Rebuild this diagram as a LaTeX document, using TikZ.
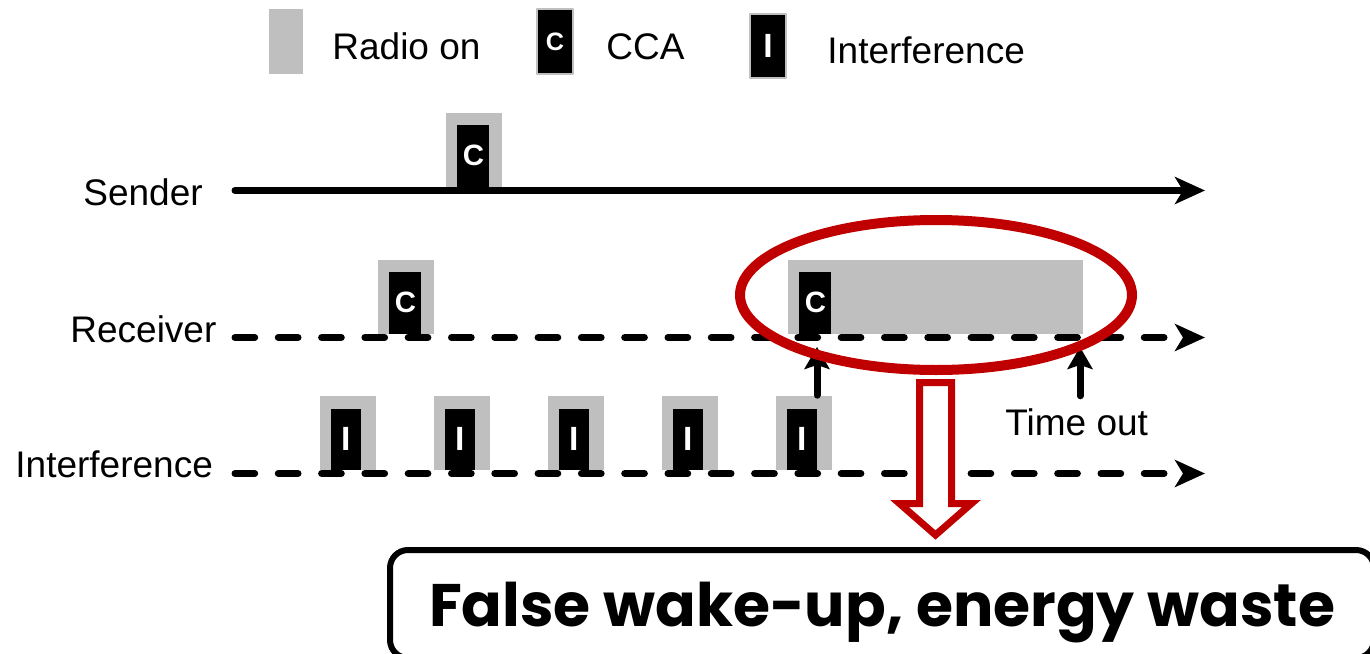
\documentclass[tikz,border=0pt]{standalone}
\usepackage{fontspec}
\setmainfont{Liberation Sans}
\newfontfamily\gothic{Poppins}
\usetikzlibrary{arrows.meta,positioning,shapes.geometric}

\definecolor{radiogray}{RGB}{191,191,191}
\definecolor{wakered}{RGB}{192,0,0}

\tikzset{
  lbl/.style={font=\fontsize{18.5}{22}\selectfont, inner sep=0pt, anchor=base west},
  radio/.style={fill=radiogray, inner sep=0pt, minimum width=28pt, minimum height=37pt, anchor=south west},
  ccabox/.style={fill=black, text=white, inner sep=0pt, minimum width=16pt, minimum height=31pt, anchor=south west, font=\fontsize{14.7}{15}\selectfont\bfseries},
  intbox/.style={ccabox, minimum width=15pt, minimum height=30.5pt, font=\fontsize{16.8}{17}\selectfont\bfseries},
  timeline/.style={line width=3.5pt, line cap=round, -{Stealth[length=15pt,width=13.5pt,inset=4pt]}},
  idle/.style={timeline, dash pattern=on 9.85pt off 11.8pt},
  trigger/.style={line width=3.5pt, line cap=round, -{Stealth[length=11pt,width=12.5pt,inset=2pt]}},
}

\begin{document}
\begin{tikzpicture}[x=0.5pt, y=-0.5pt, line join=round]
\useasboundingbox (0,0) rectangle (1370,653);

% key
\node[fill=radiogray, inner sep=0pt, minimum width=17pt, minimum height=32.5pt] (keyradio) at (286,41.5) {};
\node[lbl] (keyradiotxt) at (332,59) {Radio on};
\node[fill=black, draw=radiogray, line width=0.7pt, text=white, inner sep=0pt, minimum width=18pt, minimum height=32.5pt, font=\fontsize{12.6}{13}\selectfont\bfseries] (keycca) at (555,41.5) {C};
\node[lbl] (keyccatxt) at (606,59) {CCA};
\node[fill=black, draw=radiogray, line width=0.7pt, text=white, inner sep=0pt, minimum width=18pt, minimum height=32pt, font=\fontsize{16.8}{17}\selectfont\bfseries] (keyint) at (768,46) {I};
\node[lbl] (keyinttxt) at (827,63) {Interference};

% time lines
\node[lbl] (sender) at (83,205) {Sender};
\node[lbl] (receiver) at (70,342) {Receiver};
\node[lbl] (interf) at (15,477) {Interference};
\coordinate (s0) at (235,190.5);   \coordinate (s1) at (1205,190.5);
\coordinate (r0) at (235,337.5);   \coordinate (r1) at (1205,337.5);
\coordinate (n0) at (235,473.5);   \coordinate (n1) at (1205,473.5);

% sender CCA
\node[radio] (scca) at (446,187) {};
\node[ccabox] at ([xshift=5.5pt]scca.south west) {C};

% receiver CCA and the long wake-up
\node[radio] (rcca) at (378,334) {};
\node[ccabox] at ([xshift=5.5pt]rcca.south west) {C};
\node[radio, minimum width=147.5pt] (rwake) at (788,334) {};
\node[ccabox] (rwcca) at ([xshift=5.5pt]rwake.south west) {C};

% interference bursts
\foreach \x [count=\k] in {320,434,548,662,776} {
  \node[radio] (i\k) at (\x,470) {};
  \node[intbox] at ([xshift=5.25pt]i\k.south west) {I};
}

\draw[timeline] (s0) -- (s1);
\draw[idle] (r0) -- (r1);
\draw[idle] (n0) -- (n1);

% triggers
\coordinate (hit) at (817,347);
\coordinate (tout) at (1080,347);
\node[lbl] (timeout) at (1005,435) {Time out};
\draw[trigger] (i5.north -| hit) -- (hit);
\draw[trigger] ([yshift=6pt]timeout.north -| tout) -- (tout);

% false wake-up
\node[ellipse, draw=wakered, line width=5pt, inner sep=0pt, minimum width=196pt, minimum height=75pt] (wake) at (936,295) {};
\draw[wakered, line width=3.5pt, line join=miter, fill=white]
  (919.5,382.5) -- (951.5,382.5) -- (951.5,503.5) -- (971.5,503.5)
  -- (935.5,535) -- (899.5,503.5) -- (919.5,503.5) -- cycle;

\node[draw, line width=3pt, rounded corners=9pt, minimum width=492pt, minimum height=54pt, text depth=0pt, font=\gothic\bfseries\fontsize{30}{34}\selectfont] (result) at (882,604) {False wake-up, energy waste};
\end{tikzpicture}
\end{document}
